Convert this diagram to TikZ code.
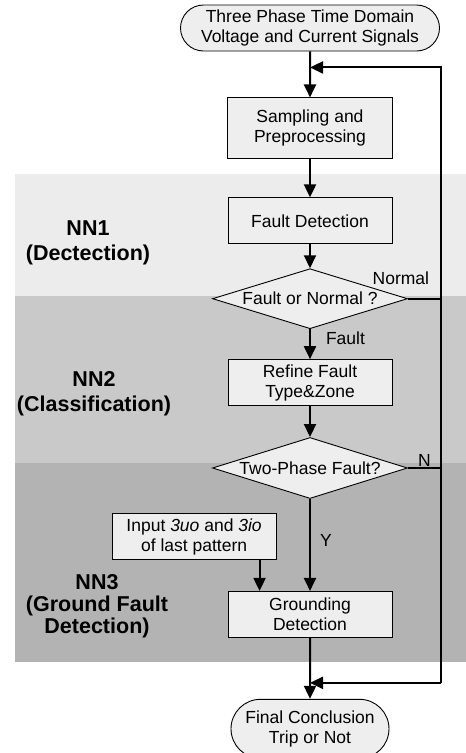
\documentclass[tikz,border=0pt]{standalone}
\usepackage{fontspec}
\setmainfont{Liberation Sans}
\usetikzlibrary{positioning,shapes.geometric,shapes.misc,arrows.meta}

\definecolor{bandone}{RGB}{236,236,236}
\definecolor{bandtwo}{RGB}{201,201,201}
\definecolor{bandthree}{RGB}{179,179,179}
\definecolor{boxfill}{RGB}{238,238,238}

\tikzset{
	proc/.style={draw, line width=0.9pt, fill=boxfill, rectangle, align=center,
		minimum width=164pt, minimum height=46pt, inner sep=2pt,
		font=\fontsize{17.5}{20}\selectfont},
	term/.style={proc, rounded rectangle},
	dec/.style={draw, line width=0.9pt, fill=boxfill, diamond, aspect=3.25, inner sep=0pt,
		minimum width=195pt, minimum height=60pt, font=\fontsize{17.5}{20}\selectfont},
	nnlabel/.style={align=center, font=\fontsize{21.5}{25}\selectfont\bfseries},
	tag/.style={inner sep=1pt, font=\fontsize{17.5}{20}\selectfont},
	flow/.style={line width=2pt, -{Triangle[length=13pt,width=12pt]}},
	line/.style={line width=2pt},
}

\begin{document}
\begin{tikzpicture}[x=1pt, y=-1pt]
		\useasboundingbox (0,0) rectangle (466,753);
		
		\fill[bandone] (15,174) rectangle (466,296);
		\fill[bandtwo] (15,296) rectangle (466,463);
		\fill[bandthree] (15,463) rectangle (466,662);
		
		\node [term, minimum width=263pt] (in) at (310,28) {Three Phase Time Domain\\Voltage and Current Signals};
		\node [proc, minimum width=165pt, minimum height=61pt, below=46pt of in] (samp) {Sampling and\\Preprocessing};
		\node [proc, below=38pt of samp] (det) {Fault Detection};
		\node [dec, below=24pt of det] (fon) {Fault or Normal ?};
		\node [proc, below=30pt of fon] (ref) {Refine Fault\\Type\&Zone};
		\node [dec, minimum height=61pt, below=31pt of ref] (two) {Two-Phase Fault?};
		\node [proc, below=92pt of two] (gnd) {Grounding\\Detection};
		\node [term, minimum width=162pt, minimum height=59pt, below=61pt of gnd] (out) {Final Conclusion\\Trip or Not};
		\node [proc, above left=31pt and -49pt of gnd] (inp) {Input \textit{3uo} and \textit{3io}\\of last pattern};
		
		\node [nnlabel] (nn1) at (88,243) {NN1\\(Dectection)};
		\node [nnlabel] (nn2) at (94,394) {NN2\\(Classification)};
		\node [nnlabel, font=\fontsize{21.5}{22}\selectfont\bfseries] (nn3) at (97,606) {NN3\\(Ground Fault\\Detection)};
		
		\coordinate [right=33pt of fon.east] (rx);
		\coordinate [below=16pt of in.south] (j1);
		\coordinate [above=16pt of out.north] (j2);
		
		\draw [flow] (in) -- (samp);
		\draw [flow] (samp) -- (det);
		\draw [flow] (det) -- (fon);
		\draw [flow] (fon) -- node [tag, right=14pt, pos=0.3] (lfault) {Fault} (ref);
		\draw [flow] (ref) -- (two);
		\draw [flow] (two) -- node [tag, right=8pt, pos=0.45] (ly) {Y} (gnd);
		\draw [flow] ([xshift=-17pt]inp.south east) -- ([xshift=-17pt]inp.south east |- gnd.north);
		\draw [flow] (gnd) -- (out);
		\draw [line] (fon.east) -- node [tag, pos=0.7, anchor=south east, yshift=12pt] (lnorm) {Normal} (fon.east -| rx);
		\draw [line] (two.east) -- node [tag, above] (ln) {N} (two.east -| rx);
		\draw [flow] (j2 -| rx) -- (j1 -| rx) -- (j1);
		\draw [flow] (j2 -| rx) -- (j2);
		
	\end{tikzpicture}
\end{document}
